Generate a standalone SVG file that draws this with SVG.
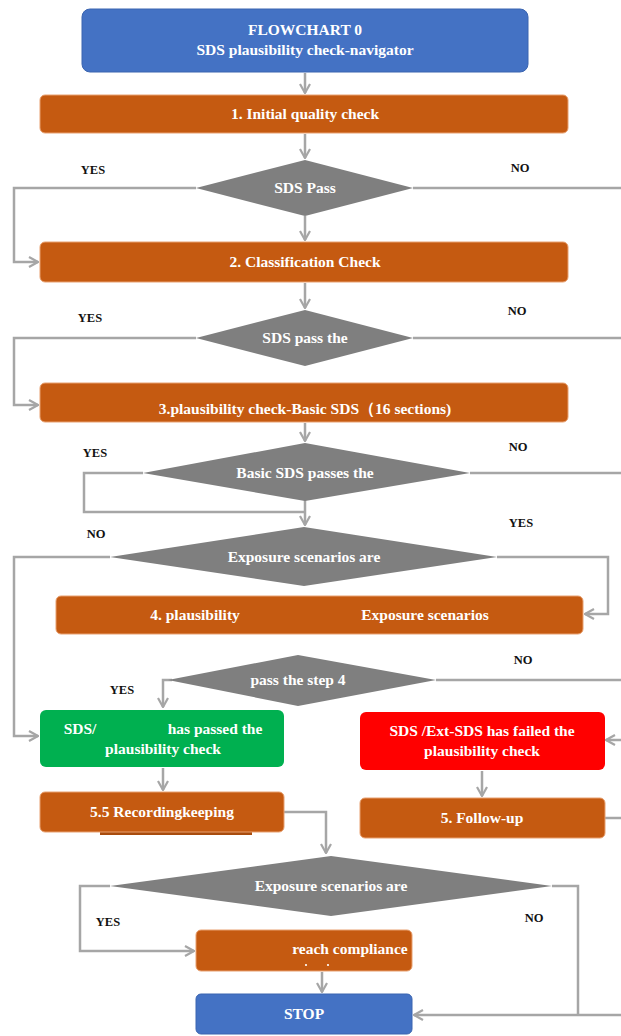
<svg xmlns="http://www.w3.org/2000/svg" width="621" height="1036" viewBox="0 0 621 1036">
<style>
.t{font-family:"Liberation Serif","Times New Roman",serif;font-weight:bold;fill:#fff;font-size:15.5px;text-anchor:middle}
.l{font-family:"Liberation Serif","Times New Roman",serif;font-weight:bold;fill:#111;font-size:12.5px;text-anchor:middle}
.or{fill:#C55A11;stroke:#E8A070;stroke-width:1}
.bl{fill:#4472C4;stroke:#3A64B0;stroke-width:1}
.dm{fill:#7F7F7F}
.c{fill:none;stroke:#A6A6A6;stroke-width:2.5}
</style>
<defs>
<marker id="a" viewBox="0 0 12 12" refX="11" refY="6" markerWidth="12" markerHeight="12" markerUnits="userSpaceOnUse" orient="auto">
<path d="M2,1 L11,6 L2,11" fill="none" stroke="#A6A6A6" stroke-width="2.2"/>
</marker>
</defs>
<rect width="621" height="1036" fill="#fff"/>
<g id="connectors" class="c">
<path d="M305,73 V93" marker-end="url(#a)"/>
<path d="M305,134 V158" marker-end="url(#a)"/>
<path d="M196,188 H14 V262 H38" marker-end="url(#a)"/>
<path d="M413,188 H621"/>
<path d="M305,216 V240" marker-end="url(#a)"/>
<path d="M305,283 V308" marker-end="url(#a)"/>
<path d="M196,338 H14 V405 H38" marker-end="url(#a)"/>
<path d="M413,338 H621"/>
<path d="M305,423 V441" marker-end="url(#a)"/>
<path d="M143,473 H84 V512 H305"/>
<path d="M305,500 V525" marker-end="url(#a)"/>
<path d="M470,473 H621"/>
<path d="M110,557 H14 V736 H38" marker-end="url(#a)"/>
<path d="M497,557 H608 V614 H585" marker-end="url(#a)"/>
<path d="M436,680 H621"/>
<path d="M172,680 H163 V707" marker-end="url(#a)"/>
<path d="M621,740 H606" marker-end="url(#a)"/>
<path d="M163,768 V790" marker-end="url(#a)"/>
<path d="M482,771 V796" marker-end="url(#a)"/>
<path d="M284,812 H326 V853" marker-end="url(#a)"/>
<path d="M605,818 H621"/>
<path d="M110,886 H80 V951 H194" marker-end="url(#a)"/>
<path d="M552,886 H578 V1015"/>
<path d="M621,1015 H414" marker-end="url(#a)"/>
<path d="M322,972 V992" marker-end="url(#a)"/>
</g>
<g id="n0"><rect class="bl" x="82" y="9" width="446" height="63" rx="8"/>
<text class="t" x="305" y="35">FLOWCHART 0</text>
<text class="t" x="305" y="55">SDS plausibility check-navigator</text></g>
<g id="n1"><rect class="or" x="40" y="95" width="528" height="38" rx="5"/>
<text class="t" x="305" y="119">1. Initial quality check</text></g>
<g id="d1"><polygon class="dm" points="305,160 413,188 305,216 196,188"/>
<text class="t" x="305" y="193">SDS Pass</text>
<text class="l" x="93" y="174">YES</text><text class="l" x="520" y="172">NO</text></g>
<g id="n2"><rect class="or" x="40" y="242" width="528" height="40" rx="5"/>
<text class="t" x="305" y="267">2. Classification Check</text></g>
<g id="d2"><polygon class="dm" points="305,310 413,338 305,366 196,338"/>
<text class="t" x="305" y="343">SDS pass the</text>
<text class="l" x="90" y="322">YES</text><text class="l" x="517" y="315">NO</text></g>
<g id="n3"><rect class="or" x="40" y="383" width="528" height="39" rx="5"/>
<text class="t" x="305" y="414">3.plausibility check-Basic SDS（16 sections)</text></g>
<g id="d3"><polygon class="dm" points="305,443 470,473 305,501 143,473"/>
<text class="t" x="305" y="478">Basic SDS passes the</text>
<text class="l" x="95" y="457">YES</text><text class="l" x="518" y="451">NO</text></g>
<g id="d4"><polygon class="dm" points="304,527 497,557 304,586 110,557"/>
<text class="t" x="304" y="562">Exposure scenarios are</text>
<text class="l" x="96" y="538">NO</text><text class="l" x="521" y="527">YES</text></g>
<g id="n4"><rect class="or" x="56" y="596" width="527" height="38" rx="5"/>
<text class="t" x="195" y="620">4. plausibility</text>
<text class="t" x="425" y="620">Exposure scenarios</text></g>
<g id="d5"><polygon class="dm" points="298,655 436,680 298,706 168,680"/>
<text class="t" x="298" y="685">pass the step 4</text>
<text class="l" x="523" y="664">NO</text><text class="l" x="122" y="694">YES</text></g>
<g id="n5"><rect fill="#00B050" x="40" y="710" width="244" height="57" rx="6"/>
<text class="t" x="80" y="734">SDS/</text>
<text class="t" x="215" y="734">has passed the</text>
<text class="t" x="163" y="754">plausibility check</text></g>
<g id="n6"><rect fill="#FF0000" x="360" y="712" width="245" height="58" rx="6"/>
<text class="t" x="482" y="736">SDS /Ext-SDS has failed the</text>
<text class="t" x="482" y="756">plausibility check</text></g>
<g id="n7"><rect fill="#A84C0E" x="100" y="829" width="152" height="6"/>
<rect class="or" x="40" y="792" width="244" height="40" rx="5"/>
<text class="t" x="162" y="817">5.5 Recordingkeeping</text></g>
<g id="n8"><rect class="or" x="360" y="798" width="245" height="40" rx="5"/>
<text class="t" x="482" y="823">5. Follow-up</text></g>
<g id="d6"><polygon class="dm" points="331,856 552,886 331,916 110,886"/>
<text class="t" x="331" y="891">Exposure scenarios are</text>
<text class="l" x="108" y="926">YES</text><text class="l" x="534" y="922">NO</text></g>
<g id="n9"><rect class="or" x="196" y="930" width="216" height="41" rx="5"/>
<text class="t" x="350" y="954">reach compliance</text>
<circle cx="306" cy="965" r="1.1" fill="#fff"/><circle cx="328" cy="965" r="1.1" fill="#fff"/></g>
<g id="n10"><rect class="bl" x="196" y="994" width="216" height="40" rx="5"/>
<text class="t" x="304" y="1019">STOP</text></g>
</svg>
